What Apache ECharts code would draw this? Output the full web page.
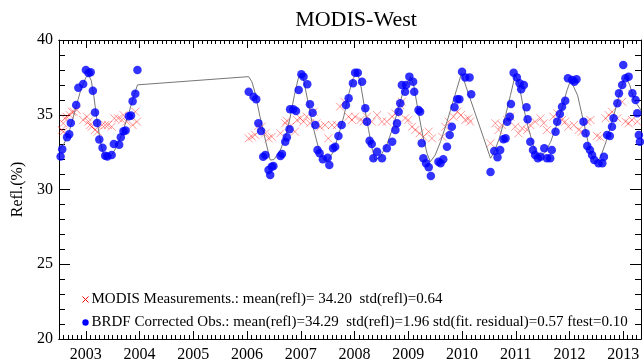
<!DOCTYPE html>
<html>
<head>
<meta charset="utf-8">
<script src="https://cdn.jsdelivr.net/npm/echarts@6/dist/echarts.min.js"></script>
<style>html,body{margin:0;padding:0;background:#fff}#c{width:644px;height:364px}</style>
</head>
<body>
<div id="c"></div>
<script>
var titleText = 'MODIS-West';
var yAxisName = 'Refl.(%)';
var xMin = 2002.5, xMax = 2013.33;
var yMin = 20, yMax = 40;
var yearTicks = [2003,2004,2005,2006,2007,2008,2009,2010,2011,2012,2013];
var legendMeas = 'MODIS Measurements.: mean(refl)= 34.20  std(refl)=0.64';
var legendBrdf = 'BRDF Corrected Obs.: mean(refl)=34.29  std(refl)=1.96 std(fit. residual)=0.57 ftest=0.10';

// MODIS measurements (red x)
var measData = [
[2002.55,33.98],[2002.58,34.43],[2002.58,33.87],[2002.61,34.76],[2002.64,34.87],[2002.70,34.98],[2002.74,35.20],[2002.77,35.20],[2002.83,35.32],[2002.95,34.65],
[2003.02,34.87],[2003.05,34.54],[2003.08,34.31],[2003.11,34.20],[2003.17,33.98],[2003.22,33.87],[2003.30,34.31],[2003.36,34.31],[2003.41,34.31],[2003.48,34.20],
[2003.53,34.76],[2003.60,34.76],[2003.67,34.65],[2003.70,34.98],[2003.76,34.54],[2003.82,34.87],[2003.87,34.31],[2003.92,35.20],[2003.95,34.54],
[2006.03,33.42],[2006.09,33.53],[2006.15,33.65],[2006.21,34.25],[2006.27,34.20],[2006.34,33.76],[2006.40,33.42],[2006.46,33.53],[2006.62,33.76],[2006.71,34.43],
[2006.74,34.60],[2006.80,34.20],[2006.89,33.87],[2006.93,34.65],[2006.99,34.76],[2007.05,34.54],[2007.11,34.87],[2007.17,34.43],[2007.24,35.20],[2007.29,34.43],
[2007.36,34.20],[2007.45,34.31],[2007.51,33.42],[2007.58,34.31],[2007.67,34.31],[2007.73,35.54],[2007.81,35.87],[2007.89,34.87],[2007.95,34.65],[2008.01,34.87],
[2008.11,34.65],[2008.17,34.54],[2008.23,34.87],[2008.32,34.54],[2008.42,34.98],[2008.51,34.54],[2008.60,34.54],[2008.70,34.87],[2008.76,35.10],[2008.85,35.65],
[2008.88,35.87],[2008.94,34.76],[2009.00,34.65],[2009.07,34.20],[2009.13,33.98],[2009.21,33.76],[2009.28,33.53],[2009.38,33.87],[2009.44,33.42],[2009.63,33.53],
[2009.69,34.20],[2009.75,34.54],[2009.84,34.87],[2009.91,35.20],[2009.98,34.98],[2010.06,34.65],[2010.12,34.76],[2010.15,34.54],[2010.53,33.09],[2010.62,34.43],
[2010.68,33.98],[2010.74,34.31],[2010.84,34.65],[2010.90,34.87],[2010.99,34.20],[2011.05,33.76],[2011.12,34.09],[2011.21,33.98],[2011.27,34.31],[2011.36,34.54],
[2011.46,34.76],[2011.52,34.43],[2011.58,33.98],[2011.70,34.87],[2011.77,35.10],[2011.86,34.65],[2011.92,34.54],[2011.98,34.20],[2012.08,34.31],[2012.17,33.98],
[2012.23,33.87],[2012.33,34.54],[2012.39,34.65],[2012.51,33.58],[2012.57,33.49],[2012.67,34.76],[2012.73,34.98],[2012.79,35.20],[2012.89,34.76],[2012.98,35.87],
[2013.04,34.54],[2013.10,34.43],[2013.16,34.65],[2013.26,34.54]
];

// BRDF corrected observations (blue dots)
var brdfData = [
[2002.53,32.20],[2002.56,32.70],[2002.65,33.50],[2002.69,33.70],[2002.72,34.45],[2002.82,35.65],[2002.86,36.80],[2002.95,37.05],[2003.00,38.00],[2003.05,37.80],
[2003.09,37.85],[2003.13,36.60],[2003.17,35.15],[2003.21,34.45],[2003.25,33.35],[2003.31,32.80],[2003.36,32.25],[2003.40,32.20],[2003.48,32.30],[2003.52,33.05],
[2003.62,33.00],[2003.65,33.50],[2003.70,33.90],[2003.74,33.95],[2003.80,34.90],[2003.84,34.95],[2003.87,35.90],[2003.92,36.40],[2003.96,38.00],
[2006.03,36.54],[2006.12,36.21],[2006.17,36.03],[2006.21,34.43],[2006.26,33.91],[2006.30,32.19],[2006.34,32.31],[2006.40,31.30],[2006.43,30.97],[2006.46,31.53],
[2006.49,31.57],[2006.62,32.24],[2006.65,32.37],[2006.71,33.20],[2006.74,33.49],[2006.79,34.03],[2006.80,35.36],[2006.86,35.36],[2006.91,35.25],[2006.96,36.66],
[2007.01,37.71],[2007.05,37.55],[2007.12,37.04],[2007.17,35.70],[2007.22,35.14],[2007.27,34.31],[2007.31,32.64],[2007.35,32.42],[2007.41,32.02],[2007.50,32.13],
[2007.53,31.64],[2007.60,32.76],[2007.64,32.86],[2007.70,33.58],[2007.76,34.31],[2007.84,35.65],[2007.89,36.10],[2007.97,37.10],[2008.01,37.81],[2008.06,37.81],
[2008.14,37.21],[2008.20,35.43],[2008.23,34.54],[2008.28,33.26],[2008.32,33.04],[2008.35,32.09],[2008.42,32.53],[2008.51,32.09],[2008.60,32.76],[2008.70,33.20],
[2008.76,33.98],[2008.79,34.43],[2008.82,35.20],[2008.85,35.77],[2008.88,36.99],[2008.94,36.54],[2008.96,36.99],[2009.02,37.55],[2009.09,37.21],[2009.11,36.54],
[2009.19,35.32],[2009.22,35.20],[2009.25,33.09],[2009.28,32.09],[2009.33,31.75],[2009.38,31.49],[2009.42,30.90],[2009.56,31.86],[2009.60,31.75],[2009.65,32.02],
[2009.72,32.86],[2009.77,33.65],[2009.81,34.20],[2009.86,35.50],[2009.91,36.03],[2009.95,36.03],[2010.00,37.88],[2010.06,37.50],[2010.14,37.50],[2010.17,36.37],
[2010.53,31.17],[2010.60,32.58],[2010.66,32.15],[2010.71,32.64],[2010.77,33.36],[2010.81,33.42],[2010.84,34.54],[2010.89,34.87],[2010.91,35.72],[2010.96,37.81],
[2011.02,37.50],[2011.07,37.10],[2011.10,36.70],[2011.15,36.99],[2011.20,35.50],[2011.22,34.70],[2011.27,33.20],[2011.32,32.64],[2011.36,32.31],[2011.41,32.09],
[2011.46,32.19],[2011.53,32.76],[2011.58,32.09],[2011.64,32.09],[2011.67,32.64],[2011.74,33.87],[2011.77,34.54],[2011.82,35.05],[2011.86,35.54],[2011.92,35.94],
[2011.97,37.44],[2012.05,37.32],[2012.09,37.21],[2012.13,37.37],[2012.26,34.54],[2012.30,33.76],[2012.33,32.91],[2012.38,32.64],[2012.42,32.31],[2012.46,31.97],
[2012.54,31.75],[2012.61,31.75],[2012.64,32.19],[2012.70,33.65],[2012.75,33.58],[2012.79,34.20],[2012.82,34.76],[2012.89,35.77],[2012.92,36.43],[2012.98,36.99],
[2013.00,38.33],[2013.04,37.44],[2013.10,37.55],[2013.17,36.43],[2013.23,35.99],[2013.26,35.10],[2013.29,33.65],[2013.31,33.20]
];

// Fitted curve (grey line)
var fitData = [
[2002.50,32.60],[2002.60,33.10],[2002.70,34.00],[2002.80,35.30],[2002.90,36.60],[2003.00,37.50],[2003.05,37.65],[2003.10,37.30],[2003.15,36.20],[2003.20,34.80],
[2003.27,33.20],[2003.33,32.30],[2003.40,32.05],[2003.48,32.30],[2003.58,32.90],[2003.68,33.80],[2003.78,34.90],[2003.88,36.10],[2003.96,37.00],
[2006.03,37.55],[2006.09,37.20],[2006.15,36.45],[2006.24,34.87],[2006.34,33.31],[2006.43,31.97],[2006.50,32.00],[2006.62,32.64],[2006.72,33.60],[2006.80,34.80],
[2006.88,36.30],[2006.95,37.40],[2006.99,37.75],[2007.05,37.40],[2007.13,35.90],[2007.22,34.30],[2007.32,32.90],[2007.42,32.00],[2007.49,31.86],[2007.60,32.50],
[2007.70,33.60],[2007.80,34.90],[2007.90,36.50],[2007.97,37.40],[2008.04,37.80],[2008.10,37.30],[2008.18,35.60],[2008.26,34.00],[2008.33,32.70],[2008.38,31.97],
[2008.48,32.20],[2008.60,33.00],[2008.70,34.00],[2008.80,35.20],[2008.90,36.50],[2009.04,37.55],[2009.10,37.00],[2009.18,35.30],[2009.27,33.60],[2009.35,32.40],
[2009.41,31.86],[2009.50,32.30],[2009.60,33.20],[2009.70,34.30],[2009.80,35.50],[2009.90,36.70],[2009.99,37.77],[2010.53,32.09],[2010.60,32.50],[2010.70,33.50],
[2010.80,34.80],[2010.90,36.30],[2010.99,37.66],[2011.05,37.20],[2011.13,35.70],[2011.22,34.30],[2011.32,33.00],[2011.40,32.30],[2011.46,32.19],[2011.55,32.50],
[2011.65,33.20],[2011.75,34.20],[2011.85,35.30],[2011.95,36.60],[2012.02,37.32],[2012.15,36.30],[2012.27,34.40],[2012.38,32.60],[2012.48,31.70],[2012.58,32.20],
[2012.68,33.20],[2012.78,34.40],[2012.88,35.70],[2012.96,36.80],[2013.04,37.60],[2013.12,37.00],[2013.20,36.00],[2013.33,35.30]
];

var monthTicks = [];
for (var m = 0; m <= 130; m++) monthTicks.push(+(xMin + m / 12).toFixed(4));

var serif = 'Liberation Serif';
var chart = echarts.init(document.getElementById('c'), null, {renderer: 'canvas'});

function xAx(pos, ticks, len, labels) {
  return {
    type: 'value', position: pos, min: xMin, max: xMax,
    axisLine: {show: true, onZero: false, lineStyle: {color: '#000', width: 1}},
    axisTick: {show: true, inside: true, length: len, customValues: ticks, lineStyle: {color: '#000', width: 1}},
    axisLabel: labels ? {show: true, customValues: yearTicks, margin: 8, color: '#000', fontFamily: serif, fontSize: 16,
      formatter: function (v) { return String(Math.round(v)); }} : {show: false},
    splitLine: {show: false}
  };
}
function yAx(pos, labels) {
  var a = {
    type: 'value', position: pos, min: yMin, max: yMax, interval: 5,
    axisLine: {show: true, onZero: false, lineStyle: {color: '#000', width: 1}},
    axisTick: {show: true, inside: true, length: 11, lineStyle: {color: '#000', width: 1}},
    minorTick: {show: true, splitNumber: 5, length: 6, lineStyle: {color: '#000', width: 1}},
    axisLabel: labels ? {show: true, margin: 6, color: '#000', fontFamily: serif, fontSize: 16} : {show: false},
    splitLine: {show: false}
  };
  if (labels) {
    a.name = yAxisName; a.nameLocation = 'middle'; a.nameRotate = 90; a.nameGap = 30;
    a.nameTextStyle = {color: '#000', fontFamily: serif, fontSize: 16};
  }
  return a;
}

var xPath = 'path://M0,0L10,10M10,0L0,10';
var legendFont = '15px "Liberation Serif"';

chart.setOption({
  animation: false,
  backgroundColor: '#fff',
  title: {text: titleText, left: 351, top: 4, textAlign: 'center',
    textStyle: {fontFamily: serif, fontSize: 22, fontWeight: 'normal', color: '#000'}},
  grid: {left: 59, right: 3, top: 40, bottom: 25, containLabel: false},
  xAxis: [xAx('bottom', yearTicks, 8, true), xAx('bottom', monthTicks, 4, false),
          xAx('top', yearTicks, 8, false), xAx('top', monthTicks, 4, false)],
  yAxis: [yAx('left', true), yAx('right', false)],
  graphic: [
    {type: 'group', left: 80, top: 292, children: [
      {type: 'polyline', shape: {points: [[0, 0], [6, 6]]}, style: {stroke: '#ff0000', lineWidth: 1}},
      {type: 'polyline', shape: {points: [[6, 0], [0, 6]]}, style: {stroke: '#ff0000', lineWidth: 1}},
      {type: 'text', x: 9, y: 3, style: {text: legendMeas, font: legendFont, fill: '#000', verticalAlign: 'middle'}},
      {type: 'circle', shape: {cx: 3, cy: 26, r: 3.2}, style: {fill: '#0000ff'}},
      {type: 'text', x: 9, y: 26, style: {text: legendBrdf, font: legendFont, fill: '#000', verticalAlign: 'middle'}}
    ]}
  ],
  series: [
    {name: 'meas', type: 'scatter', data: measData, symbol: xPath, symbolSize: 8,
      itemStyle: {color: 'rgba(0,0,0,0)', borderColor: 'rgba(255,0,0,0.5)', borderWidth: 1}, z: 2},
    {name: 'fit', type: 'line', data: fitData, showSymbol: false, symbol: 'none',
      lineStyle: {color: '#777777', width: 1}, z: 3},
    {name: 'brdf', type: 'scatter', data: brdfData, symbol: 'circle', symbolSize: 8.5,
      itemStyle: {color: '#0000ff'}, z: 4}
  ]
});
</script>
</body>
</html>
